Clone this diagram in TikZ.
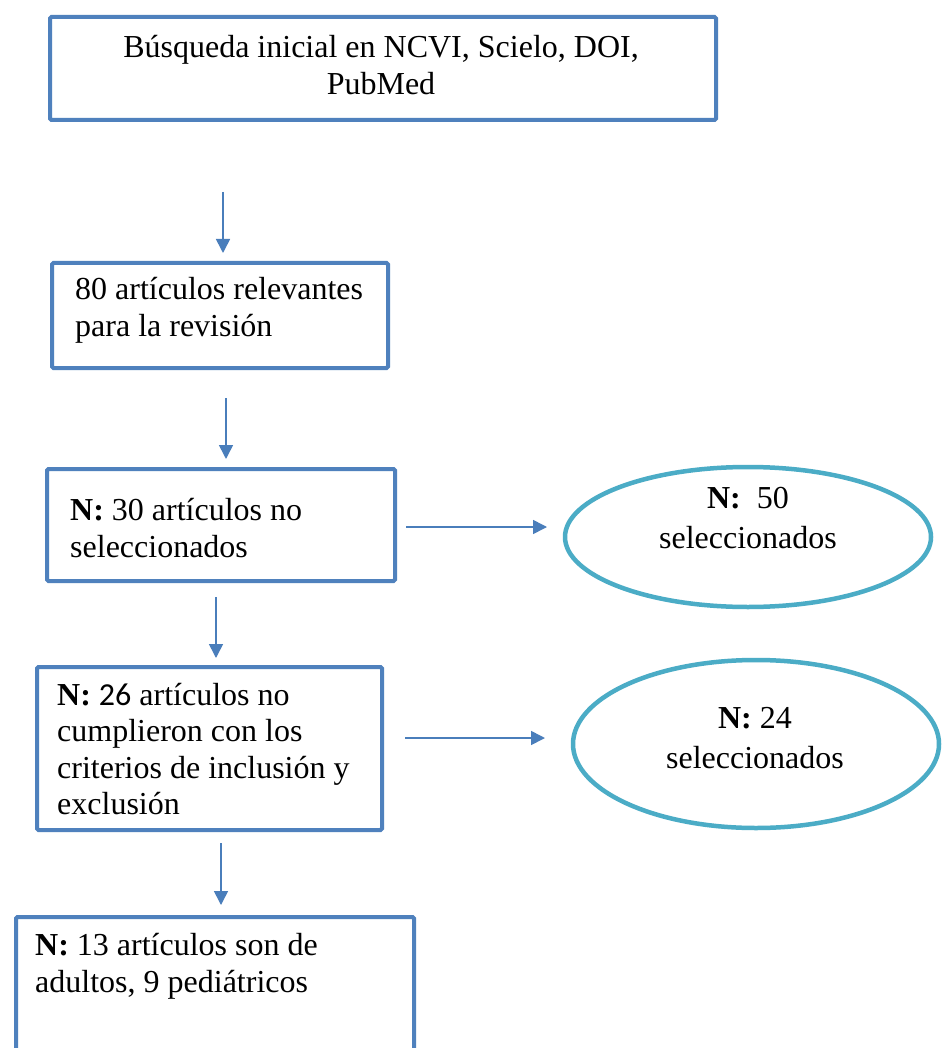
\documentclass[tikz,border=0pt]{standalone}
\usepackage{fontspec}
\setmainfont{Liberation Serif}
\newfontfamily\calib{Carlito}
\usetikzlibrary{arrows.meta,shapes.geometric}
\definecolor{boxblue}{HTML}{4F81BD}
\definecolor{arrblue}{HTML}{4A7EBB}
\definecolor{ellblue}{HTML}{4BACC6}
\tikzset{
  stepbox/.style={draw=boxblue, line width=4pt, rounded corners=1.5pt, inner sep=0pt, anchor=north west, fill=white},
  oval/.style={draw=ellblue, line width=4.5pt, ellipse, inner sep=0pt},
  txt/.style={font=\fontsize{32}{36.5}\selectfont, inner sep=0pt, anchor=base west, align=left},
  ctxt/.style={font=\fontsize{32}{37}\selectfont, inner sep=0pt, anchor=base, align=center},
  etxt/.style={font=\fontsize{32}{39.5}\selectfont, inner sep=0pt, anchor=base, align=center},
  arr/.style={draw=arrblue, line width=1.6pt, -{Triangle[length=14pt,width=14pt]}}
}
\begin{document}
\begin{tikzpicture}[x=1pt,y=-1pt]
\useasboundingbox (0,0) rectangle (948,1048);
\fill[white] (0,0) rectangle (948,1048);
% boxes
\node[stepbox, minimum width=666pt, minimum height=103pt] (b1) at (48,15) {};
\node[stepbox, minimum width=336pt, minimum height=105pt] (b2) at (50,261) {};
\node[stepbox, minimum width=348pt, minimum height=112pt] (b3) at (45,467) {};
\node[stepbox, minimum width=345pt, minimum height=163pt] (b4) at (35,665) {};
\node[stepbox, minimum width=398pt, minimum height=150pt] (b5) at (14,915) {};
% ellipses
\node[oval, minimum width=366pt, minimum height=140pt] (e1) at (748,537) {};
\node[oval, minimum width=366pt, minimum height=168pt] (e2) at (756,744) {};
% texts (anchored at the baseline of their last line)
\node[ctxt] (t1) at (381,95) {Búsqueda inicial en NCVI, Scielo, DOI,\\PubMed};
\node[txt] (t2) at (75,336) {80 artículos relevantes\\para la revisión};
\node[txt] (t3) at (70,557) {\textbf{N:} 30 artículos no\\seleccionados};
\node[txt] (t4) at (57,814.5) {\textbf{N:} {\calib 26} artículos no\\cumplieron con los\\criterios de inclusión y\\exclusión};
\node[txt] (t5) at (35,992) {\textbf{N:} 13 artículos son de\\adultos, 9 pediátricos};
\node[etxt] (t6) at (748,548) {\textbf{N:}~ 50\\seleccionados};
\node[etxt] (t7) at (755,768) {\textbf{N:} 24\\seleccionados};
% arrow end points
\coordinate (a1s) at (223,192); \coordinate (a1e) at (223,253);
\coordinate (a2s) at (226,398); \coordinate (a2e) at (226,459);
\coordinate (a3s) at (216,597); \coordinate (a3e) at (216,658);
\coordinate (a4s) at (221,843); \coordinate (a4e) at (221,905);
\coordinate (h1s) at (406,527); \coordinate (h1e) at (547,527);
\coordinate (h2s) at (405,738); \coordinate (h2e) at (545,738);
\draw[arr] (a1s) -- (a1e);
\draw[arr] (a2s) -- (a2e);
\draw[arr] (a3s) -- (a3e);
\draw[arr] (a4s) -- (a4e);
\draw[arr] (h1s) -- (h1e);
\draw[arr] (h2s) -- (h2e);
\end{tikzpicture}
\end{document}
